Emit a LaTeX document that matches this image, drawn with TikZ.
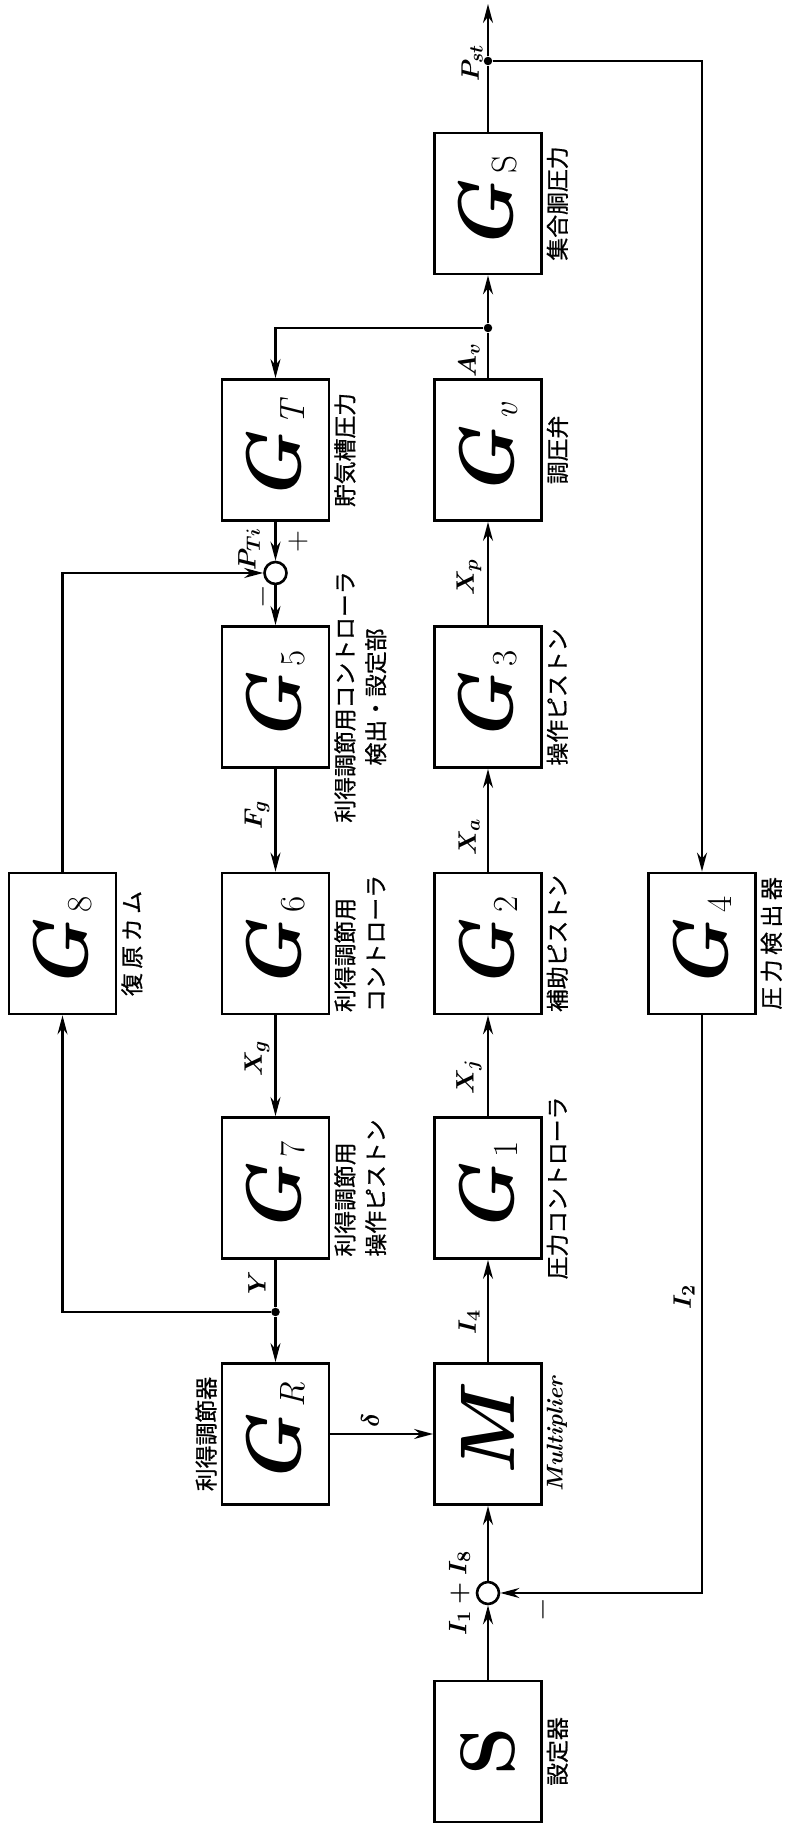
\documentclass[tikz,border=0pt]{standalone}
\usepackage{fontspec}
\usepackage{amsmath, amssymb}
\usetikzlibrary{arrows.meta}
\newfontfamily\jpfont[FakeBold=0.8]{Noto Sans CJK JP}
\newfontfamily\jpwide[FakeBold=0.8, LetterSpace=20]{Noto Sans CJK JP}
\newcommand{\Gbox}[1]{{\fontsize{44}{44}\selectfont\bfseries\itshape G}\hspace{0.16cm}\raisebox{-0.08cm}{\fontsize{20}{20}\selectfont #1}}

\tikzset{
  blk/.style={draw, line width=1.6pt, minimum width=2.82cm, minimum height=2.14cm, inner sep=0pt},
  sumpt/.style={circle, draw, line width=1.5pt, minimum size=0.44cm, inner sep=0pt},
  dotpt/.style={circle, fill, inner sep=0pt, minimum size=0.17cm},
  sig/.style={line width=1.3pt, -{Stealth[length=3.8mm, width=2mm]}},
  wire/.style={line width=1.3pt},
  capt/.style={font=\jpfont\fontsize{13}{17.5}\selectfont, inner sep=2pt},
  lbl/.style={font=\fontsize{15}{15}\selectfont, inner sep=1pt},
}

\begin{document}
\begin{tikzpicture}
\begin{scope}[shift={(15.74,0)}, rotate=90, transform shape]
  \useasboundingbox (0,0) rectangle (36.5,15.74);
  % main row
  \node[blk] (S)  at (1.47,5.98)  {{\fontsize{44}{44}\selectfont\bfseries S}};
  \node[sumpt] (c1) at (4.64,5.98) {};
  \node[blk] (M)  at (7.82,5.98)  {{\fontsize{44}{44}\selectfont\bfseries\itshape M}};
  \node[blk] (G1) at (12.74,5.98) {\Gbox{1}};
  \node[blk] (G2) at (17.63,5.98) {\Gbox{2}};
  \node[blk] (G3) at (22.56,5.98) {\Gbox{3}};
  \node[blk] (Gv) at (27.50,5.98) {\Gbox{\textit{v}}};
  \node[dotpt] (Avj) at (29.94,5.98) {};
  \node[blk] (Gs) at (32.43,5.98) {\Gbox{S}};
  \node[dotpt] (Pstj) at (35.28,5.98) {};
  \coordinate (out) at (36.42,5.98);
  % gain row
  \node[blk] (GR) at (7.82,10.23)  {\Gbox{\textit{R}}};
  \node[dotpt] (Yj) at (10.26,10.23) {};
  \node[blk] (G7) at (12.74,10.23) {\Gbox{7}};
  \node[blk] (G6) at (17.63,10.23) {\Gbox{6}};
  \node[blk] (G5) at (22.56,10.23) {\Gbox{5}};
  \node[sumpt] (c2) at (25.04,10.23) {};
  \node[blk] (GT) at (27.50,10.23) {\Gbox{\textit{T}}};
  % feedback blocks
  \node[blk] (G8) at (17.63,14.49) {\Gbox{8}};
  \node[blk] (G4) at (17.63,1.70)  {\Gbox{4}};

  % captions
  \node[capt, anchor=north] (capS)  at (S.south)  {設定器};
  \node[anchor=north, inner sep=2pt, font=\fontsize{13}{14}\selectfont\bfseries\itshape] (capM) at (M.south) {Multiplier};
  \node[capt, anchor=north] (capG1) at (G1.south) {圧力コントローラ};
  \node[capt, anchor=north] (capG2) at (G2.south) {補助ピストン};
  \node[capt, anchor=north] (capG3) at (G3.south) {操作ピストン};
  \node[capt, anchor=north] (capGv) at (Gv.south) {調圧弁};
  \node[capt, anchor=north] (capGs) at (Gs.south) {集合胴圧力};
  \node[capt, anchor=south] (capGR) at (GR.north) {利得調節器};
  \node[capt, anchor=north, align=left] (capG7) at (G7.south) {利得調節用\\操作ピストン};
  \node[capt, anchor=north, align=left] (capG6) at (G6.south) {利得調節用\\コントローラ};
  \node[capt, anchor=north, align=center] (capG5) at (G5.south) {利得調節用コントローラ\\検出・設定部};
  \node[capt, anchor=north] (capGT) at (GT.south) {貯気槽圧力};
  \node[capt, anchor=north, font=\jpwide\fontsize{13}{17.5}\selectfont] (capG8) at (G8.south) {復原カム};
  \node[capt, anchor=north, font=\jpwide\fontsize{13}{17.5}\selectfont] (capG4) at (G4.south) {圧力検出器};

  % main path
  \draw[sig] (S) -- (c1);
  \draw[sig] (c1) -- (M);
  \draw[sig] (M) -- (G1);
  \draw[sig] (G1) -- (G2);
  \draw[sig] (G2) -- (G3);
  \draw[sig] (G3) -- (Gv);
  \draw[wire] (Gv) -- (Avj);
  \draw[sig] (Avj) -- (Gs);
  \draw[wire] (Gs) -- (Pstj);
  \draw[sig] (Pstj) -- (out);
  % gain loop
  \draw[sig] (Avj) |- (GT);
  \draw[sig] (GT) -- (c2);
  \draw[sig] (c2) -- (G5);
  \draw[sig] (G5) -- (G6);
  \draw[sig] (G6) -- (G7);
  \draw[wire] (G7) -- (Yj);
  \draw[sig] (Yj) -- (GR);
  \draw[sig] (GR) -- (M);
  \draw[sig] (Yj) |- (G8);
  \draw[sig] (G8) -| (c2);
  % pressure feedback
  \draw[sig] (Pstj) |- (G4);
  \draw[sig] (G4) -| (c1);

  % signal labels
  \node[lbl] (lI18) at (4.64,6.55)  {$\boldsymbol{I_1+I_8}$};
  \node[lbl] (lminB) at (4.30,4.88) {\fontsize{16}{16}\selectfont$-$};
  \node[lbl] (lI4)  at (10.06,6.36) {$\boldsymbol{I_4}$};
  \node[lbl] (lXj)  at (14.96,6.36) {$\boldsymbol{X_j}$};
  \node[lbl] (lXa)  at (19.76,6.36) {$\boldsymbol{X_a}$};
  \node[lbl] (lXp)  at (24.96,6.36) {$\boldsymbol{X_p}$};
  \node[lbl] (lAv)  at (29.30,6.36) {$\boldsymbol{A_v}$};
  \node[lbl] (lPst) at (35.24,6.30) {$\boldsymbol{P_{st}}$};
  \node[lbl] (ldel) at (8.10,8.34)  {$\boldsymbol{\delta}$};
  \node[lbl] (lY)   at (10.84,10.60) {$\boldsymbol{Y}$};
  \node[lbl] (lXg)  at (15.34,10.60) {$\boldsymbol{X_g}$};
  \node[lbl] (lFg)  at (20.20,10.60) {$\boldsymbol{F_g}$};
  \node[lbl] (lPT)  at (25.52,10.76) {$\boldsymbol{P_{Ti}}$};
  \node[lbl] (lplus) at (25.66,9.78) {\fontsize{16}{16}\selectfont$+$};
  \node[lbl] (lminA) at (24.56,10.48) {\fontsize{16}{16}\selectfont$-$};
  \node[lbl] (lI2)  at (10.56,2.06) {$\boldsymbol{I_2}$};
\end{scope}
\end{tikzpicture}
\end{document}
